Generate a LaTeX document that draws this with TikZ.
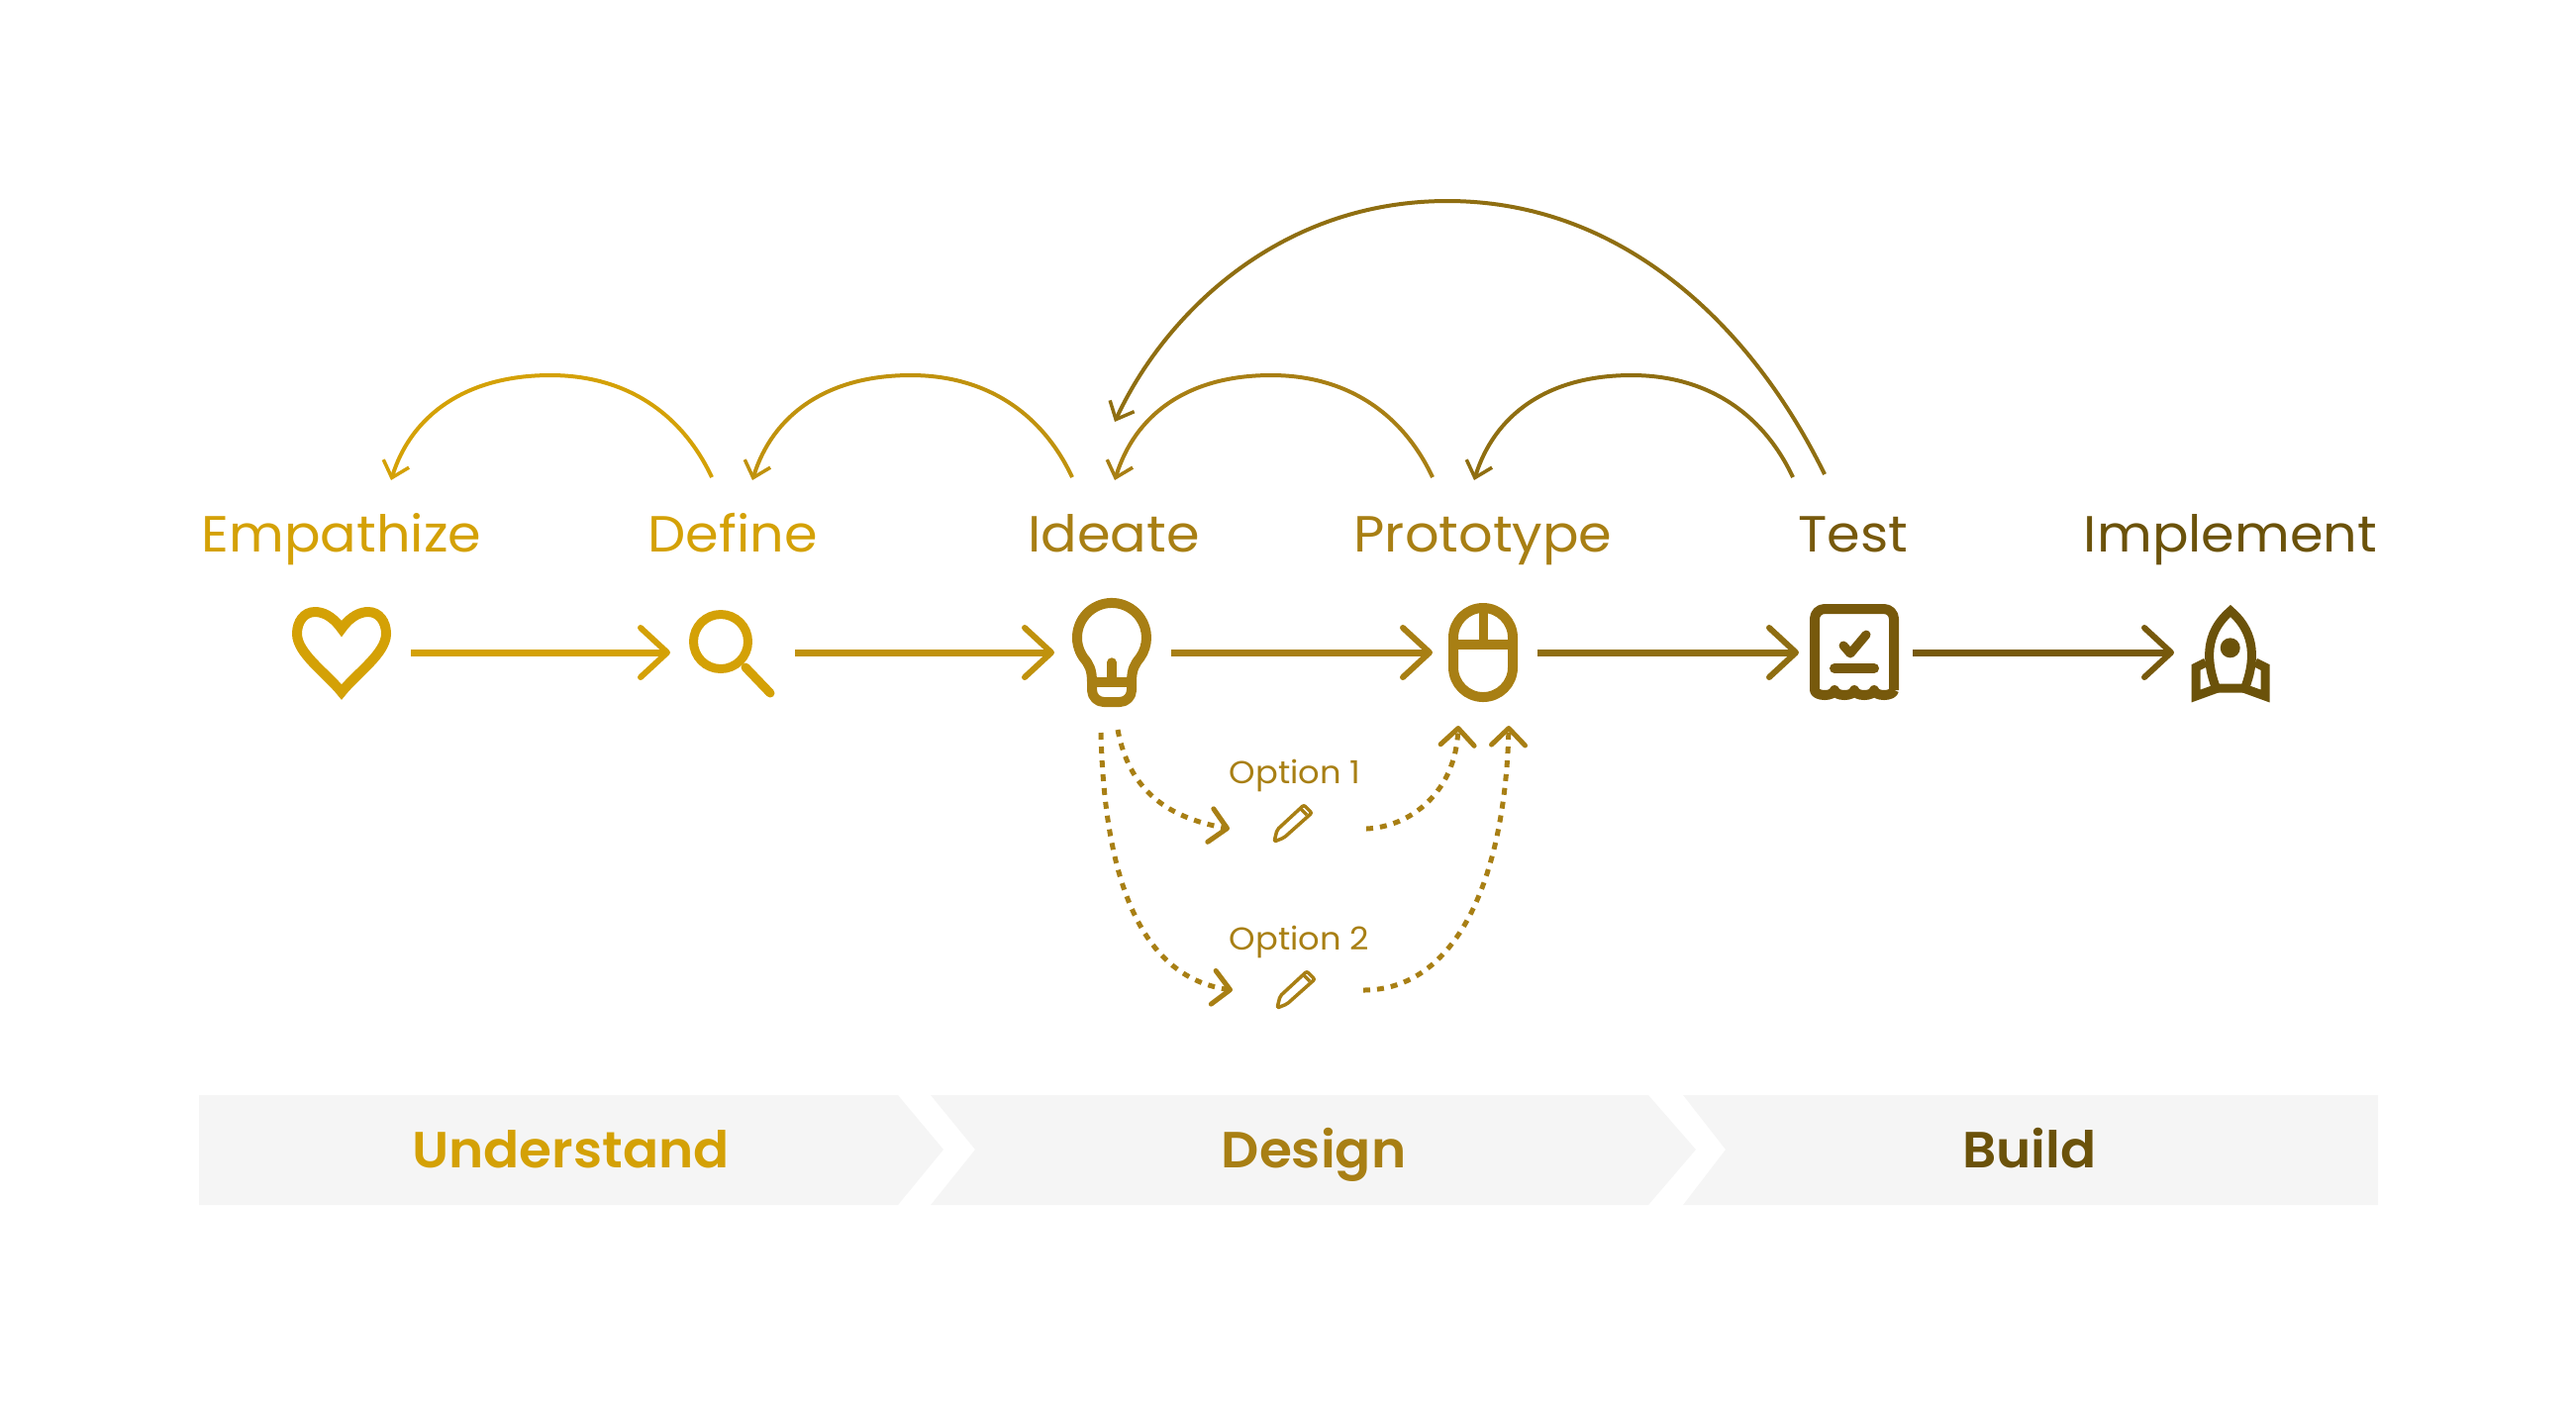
\documentclass[tikz,border=0pt]{standalone}
\usepackage{fontspec}
\setmainfont[FakeStretch=1.055]{Poppins}
\newfontfamily\semifont[FakeStretch=1.04]{Poppins SemiBold}
\usetikzlibrary{arrows.meta}

\definecolor{goldA}{HTML}{D4A106}
\definecolor{goldB}{HTML}{C0920D}
\definecolor{goldC}{HTML}{A87F14}
\definecolor{goldD}{HTML}{8F6E11}
\definecolor{goldE}{HTML}{77590C}
\definecolor{goldF}{HTML}{6B520A}
\definecolor{bandgray}{HTML}{F5F5F5}

\tikzset{
	iconbox/.style={inner sep=0pt, outer sep=0pt, minimum height=1.1cm},
	label/.style={anchor=base, inner sep=0pt, outer sep=0pt, text height=0.4cm, text depth=0pt, font=\fontsize{14.6}{16}\selectfont},
	bandlabel/.style={anchor=base, inner sep=0pt, font=\fontsize{14.6}{16}\semifont},
	optlabel/.style={anchor=base west, inner sep=0pt, font=\fontsize{9.1}{10}\selectfont, text=goldC},
	flow/.style={line width=0.07cm, -{Straight Barb[length=0.27cm, width=0.5cm, line width=0.06cm, round]}},
	back/.style={line width=0.04cm, -{Straight Barb[length=0.15cm, width=0.27cm, line width=0.035cm]}},
	maybe/.style={goldC, line width=0.05cm, dash pattern=on 0.07cm off 0.07cm, -{Straight Barb[length=0.17cm, width=0.34cm, line width=0.05cm, round]}},
	icon/.style={line width=0.10cm, line join=round},
	band/.style={fill=bandgray},
	pencilicon/.pic={
		\draw[goldC, line width=0.035cm, line join=round, rounded corners=0.02cm] (0,0) -- (0.03,0.12) -- (0.30,0.37) -- (0.38,0.29) -- (0.10,0.04) -- cycle;
		\draw[goldC, line width=0.035cm] (0.27,0.33) -- (0.33,0.27);
	}
}

\begin{document}
\begin{tikzpicture}
	\useasboundingbox (0,0) rectangle (26.02,-14.16);

	% bands
	\fill[band] (2.01,-11.06) -- (9.07,-11.06) -- (9.53,-11.61) -- (9.07,-12.17) -- (2.01,-12.17) -- cycle;
	\fill[band] (9.40,-11.06) -- (16.65,-11.06) -- (17.13,-11.61) -- (16.65,-12.17) -- (9.40,-12.17) -- (9.85,-11.61) -- cycle;
	\fill[band] (17.00,-11.06) -- (24.02,-11.06) -- (24.02,-12.17) -- (17.00,-12.17) -- (17.43,-11.61) -- cycle;
	\node[bandlabel, text=goldA] (understand) at (5.765,-11.79) {Understand};
	\node[bandlabel, text=goldC] (design) at (13.27,-11.79) {Design};
	\node[bandlabel, text=goldF] (build) at (20.50,-11.79) {Build};

	% labels
	\node[label, text=goldA] (empathize) at (3.45,-5.57) {Empathize};
	\node[label, text=goldA] (define) at (7.40,-5.57) {Define};
	\node[label, text=goldC] (ideate) at (11.25,-5.57) {Ideate};
	\node[label, text=goldC] (prototype) at (14.98,-5.57) {Prototype};
	\node[label, text=goldE] (test) at (18.72,-5.57) {Test};
	\node[label, text=goldF] (implement) at (22.53,-5.57) {Implement};

	% spots for the icons
	\node[iconbox, minimum width=1.40cm] (heart) at (3.45,-6.59) {};
	\node[iconbox, minimum width=1.26cm] (search) at (7.40,-6.59) {};
	\node[iconbox, minimum width=1.18cm] (bulb) at (11.24,-6.59) {};
	\node[iconbox, minimum width=1.06cm] (mouse) at (15.00,-6.59) {};
	\node[iconbox, minimum width=1.15cm] (report) at (18.745,-6.59) {};
	\node[iconbox, minimum width=1.14cm] (rocket) at (22.53,-6.59) {};
	\node[iconbox, minimum height=0.4cm, minimum width=1.38cm] (pencilA) at (13.11,-8.37) {};
	\node[iconbox, minimum height=0.4cm, minimum width=1.32cm] (pencilB) at (13.11,-10.00) {};

	% heart
	\draw[icon, goldA, line join=miter] (3.45,-6.35) .. controls (3.35,-6.21) and (3.25,-6.18) .. (3.18,-6.18) .. controls (3.07,-6.18) and (3.00,-6.28) .. (3.00,-6.40) .. controls (3.00,-6.60) and (3.30,-6.80) .. (3.45,-6.99) .. controls (3.60,-6.80) and (3.90,-6.60) .. (3.90,-6.40) .. controls (3.90,-6.28) and (3.83,-6.18) .. (3.72,-6.18) .. controls (3.65,-6.18) and (3.55,-6.21) .. cycle;
	% search
	\draw[icon, goldA, line width=0.09cm] (7.28,-6.48) circle (0.275);
	\draw[icon, goldA, line width=0.09cm, line cap=round] (7.53,-6.74) -- (7.78,-7.00);
	% bulb
	\draw[icon, goldC] (11.03,-6.89) .. controls (11.03,-6.76) and (11.00,-6.71) .. (10.943,-6.64) arc[start angle=215, end angle=-35, radius=0.35] .. controls (11.46,-6.71) and (11.43,-6.76) .. (11.43,-6.89) -- (11.43,-6.97) arc (0:-90:0.12) -- (11.15,-7.09) arc (-90:-180:0.12) -- cycle;
	\draw[icon, goldC] (11.03,-6.89) -- (11.43,-6.89);
	\draw[icon, goldC, line cap=round, line width=0.095cm] (11.23,-6.69) -- (11.23,-6.89);
	% mouse
	\draw[icon, goldC, rounded corners=0.30cm] (14.68,-6.14) rectangle (15.28,-7.04);
	\draw[icon, goldC] (14.68,-6.51) -- (15.28,-6.51);
	\draw[icon, goldC, line width=0.09cm] (14.98,-6.14) -- (14.98,-6.51);
	% test report
	\draw[icon, goldE] (19.13,-6.97) -- (19.13,-6.25) arc (0:90:0.10) -- (18.43,-6.15) arc (90:180:0.10) -- (18.33,-6.97)
		arc[start angle=180, end angle=360, x radius=0.10, y radius=0.05]
		arc[start angle=180, end angle=360, x radius=0.10, y radius=0.05]
		arc[start angle=180, end angle=360, x radius=0.10, y radius=0.05]
		arc[start angle=180, end angle=360, x radius=0.10, y radius=0.05];
	\draw[icon, goldE, line cap=round, line width=0.09cm] (18.62,-6.52) -- (18.69,-6.60) -- (18.85,-6.41);
	\draw[icon, goldE, line cap=round] (18.53,-6.75) -- (18.93,-6.75);
	% rocket
	\draw[icon, goldF, line width=0.09cm, line join=miter] (22.385,-6.95) .. controls (22.25,-6.60) and (22.32,-6.35) .. (22.53,-6.17) .. controls (22.74,-6.35) and (22.81,-6.60) .. (22.675,-6.95) -- cycle;
	\draw[icon, goldF, line width=0.09cm, line join=miter] (22.28,-6.69) -- (22.18,-6.74) -- (22.18,-7.03) -- (22.40,-6.95);
	\draw[icon, goldF, line width=0.09cm, line join=miter] (22.78,-6.69) -- (22.88,-6.74) -- (22.88,-7.03) -- (22.66,-6.95);
	\fill[goldF] (22.527,-6.543) circle (0.10);

	% main line
	\draw[flow, goldA] (heart) -- (search);
	\draw[flow, goldB] (search) -- (bulb);
	\draw[flow, goldC] (bulb) -- (mouse);
	\draw[flow, goldD] (mouse) -- (report);
	\draw[flow, goldE] (report) -- (rocket);

	% going back
	\draw[back, goldA] ([shift={(-0.21,0.35)}]define.north) .. controls (6.90,-4.20) and (6.35,-3.79) .. (5.56,-3.79) .. controls (4.70,-3.79) and (4.15,-4.20) .. ([shift={(0.50,0.32)}]empathize.north);
	\draw[back, goldB] ([shift={(-0.42,0.35)}]ideate.north) .. controls (10.54,-4.20) and (9.99,-3.79) .. (9.20,-3.79) .. controls (8.34,-3.79) and (7.80,-4.20) .. ([shift={(0.20,0.32)}]define.north);
	\draw[back, goldC] ([shift={(-0.51,0.35)}]prototype.north) .. controls (14.18,-4.20) and (13.63,-3.79) .. (12.84,-3.79) .. controls (11.98,-3.79) and (11.46,-4.20) .. ([shift={(0.01,0.32)}]ideate.north);
	\draw[back, goldD] ([shift={(-0.61,0.35)}]test.north) .. controls (17.82,-4.20) and (17.27,-3.79) .. (16.48,-3.79) .. controls (15.62,-3.79) and (15.09,-4.20) .. ([shift={(-0.09,0.32)}]prototype.north);
	\draw[back, goldD] ([shift={(-0.29,0.38)}]test.north) .. controls (17.70,-3.30) and (16.40,-2.03) .. (14.62,-2.03) .. controls (12.90,-2.03) and (11.75,-3.20) .. ([shift={(0.01,0.91)}]ideate.north);

	% options
	\node[optlabel] (optionA) at (12.41,-7.91) {Option 1};
	\node[optlabel] (optionB) at (12.41,-9.59) {Option 2};
	\pic at (12.87,-8.50) {pencilicon};
	\pic at (12.90,-10.18) {pencilicon};
	\draw[maybe] ([shift={(0.05,-0.23)}]bulb.south) .. controls (11.40,-7.95) and (11.75,-8.25) .. (pencilA.west);
	\draw[maybe] ([shift={(-0.12,-0.26)}]bulb.south) .. controls (11.15,-8.60) and (11.40,-9.85) .. (pencilB.west);
	\draw[maybe] (pencilA.east) .. controls (14.25,-8.35) and (14.70,-8.00) .. ([shift={(-0.27,-0.19)}]mouse.south);
	\draw[maybe] (pencilB.east) .. controls (14.70,-10.00) and (15.20,-8.90) .. ([shift={(0.24,-0.19)}]mouse.south);
\end{tikzpicture}
\end{document}
